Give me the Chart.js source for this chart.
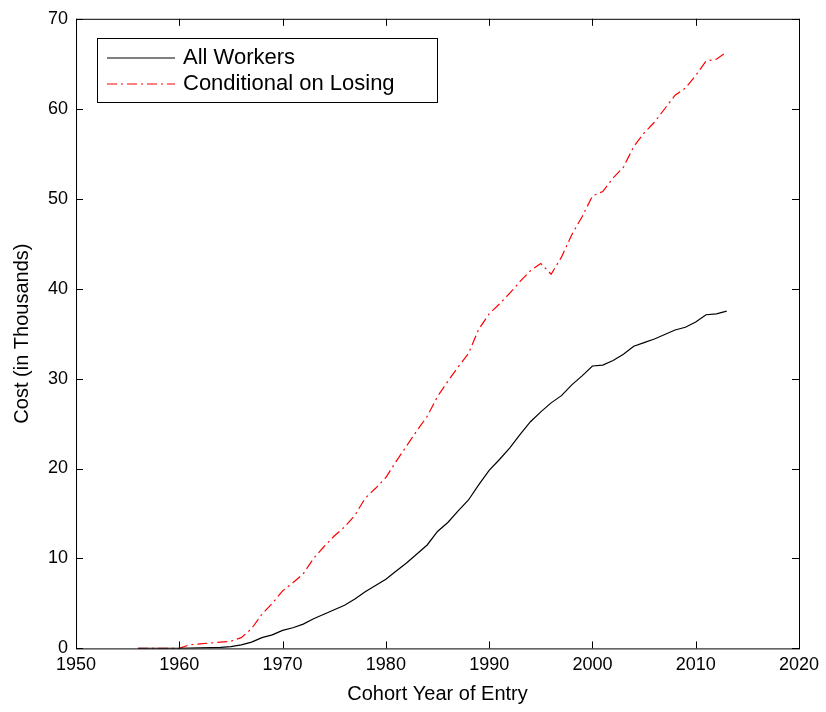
<!DOCTYPE html>
<html>
<head>
<meta charset="UTF-8">
<script src="https://cdn.jsdelivr.net/npm/chart.js@4/dist/chart.umd.min.js"></script>
<style>
  * { margin: 0; padding: 0; }
  body { background: #fff; width: 826px; height: 712px; overflow: hidden; }
</style>
</head>
<body>
<canvas id="c" width="826" height="712"></canvas>
<script>
const YEARS = [1956,1957,1958,1959,1960,1961,1962,1963,1964,1965,1966,1967,1968,1969,1970,1971,1972,1973,1974,1975,1976,1977,1978,1979,1980,1981,1982,1983,1984,1985,1986,1987,1988,1989,1990,1991,1992,1993,1994,1995,1996,1997,1998,1999,2000,2001,2002,2003,2004,2005,2006,2007,2008,2009,2010,2011,2012,2013];
const ALL_WORKERS = [0,0,0,0,0,0.02,0.05,0.08,0.12,0.2,0.4,0.7,1.2,1.5,2.0,2.3,2.7,3.3,3.8,4.3,4.8,5.5,6.3,7.0,7.7,8.6,9.5,10.5,11.5,13.0,14.0,15.3,16.5,18.2,19.8,21.0,22.3,23.8,25.2,26.3,27.3,28.1,29.3,30.3,31.4,31.5,32.0,32.7,33.6,34.0,34.4,34.9,35.4,35.7,36.3,37.1,37.2,37.5];
const CONDITIONAL = [0,0,0,0,0,0.4,0.5,0.6,0.7,0.8,1.2,2.2,3.8,5.0,6.4,7.3,8.3,10.0,11.3,12.5,13.5,14.8,16.7,17.8,19.0,20.8,22.5,24.2,25.8,28.0,29.7,31.3,32.8,35.5,37.2,38.3,39.5,40.8,42.0,42.8,41.6,43.5,46.0,48.0,50.3,50.8,52.3,53.5,55.8,57.3,58.5,60.0,61.5,62.3,63.7,65.3,65.5,66.3];
const SERIES_LABELS = ['All Workers', 'Conditional on Losing'];
const X_TICKS = [1950,1960,1970,1980,1990,2000,2010,2020];
const Y_TICKS = [0,10,20,30,40,50,60,70];

const FONT = 'Liberation Sans, Arial, sans-serif';

const frame = {
  id: 'frame',
  afterDraw(chart) {
    const { ctx, chartArea: a, scales } = chart;
    ctx.save();
    ctx.strokeStyle = '#000';
    ctx.lineWidth = 1;
    ctx.strokeRect(a.left + 0.5, a.top + 0.5, a.right - a.left, a.bottom - a.top);
    ctx.beginPath();
    for (const t of X_TICKS) {
      const x = Math.round(scales.x.getPixelForValue(t)) + 0.5;
      ctx.moveTo(x, a.bottom); ctx.lineTo(x, a.bottom - 7);
      ctx.moveTo(x, a.top); ctx.lineTo(x, a.top + 7);
    }
    for (const t of Y_TICKS) {
      const y = Math.round(scales.y.getPixelForValue(t)) + 0.5;
      ctx.moveTo(a.left, y); ctx.lineTo(a.left + 7, y);
      ctx.moveTo(a.right, y); ctx.lineTo(a.right - 7, y);
    }
    ctx.stroke();
    // legend box
    const bx = 97, by = 38, bw = 340, bh = 64;
    ctx.fillStyle = '#fff';
    ctx.fillRect(bx, by, bw, bh);
    ctx.strokeRect(bx + 0.5, by + 0.5, bw, bh);
    ctx.font = '22px ' + FONT;
    ctx.textBaseline = 'middle';
    ctx.fillStyle = '#000';
    const rows = [[by + 20, '#000', []], [by + 46, '#ff0000', [10, 4, 2, 4]]];
    rows.forEach(([y, col, dash], i) => {
      ctx.strokeStyle = col; ctx.setLineDash(dash);
      ctx.beginPath(); ctx.moveTo(bx + 10, y); ctx.lineTo(bx + 78, y); ctx.stroke();
      ctx.setLineDash([]);
      ctx.fillText(SERIES_LABELS[i], bx + 86, y);
    });
    ctx.restore();
  }
};

new Chart(document.getElementById('c'), {
  type: 'line',
  data: {
    datasets: [
      { label: SERIES_LABELS[0], data: YEARS.map((x, i) => ({ x, y: ALL_WORKERS[i] })), borderColor: '#000', borderWidth: 1.2, pointRadius: 0, tension: 0 },
      { label: SERIES_LABELS[1], data: YEARS.map((x, i) => ({ x, y: CONDITIONAL[i] })), borderColor: '#ff0000', borderWidth: 1.2, borderDash: [10, 4, 2, 4], pointRadius: 0, tension: 0 }
    ]
  },
  options: {
    responsive: false,
    animation: false,
    devicePixelRatio: 1,
    layout: { padding: { top: 17, right: 27, left: 10, bottom: 6 } },
    plugins: { legend: { display: false }, tooltip: { enabled: false } },
    scales: {
      x: {
        type: 'linear', min: 1950, max: 2020,
        afterBuildTicks: s => { s.ticks = X_TICKS.map(v => ({ value: v })); },
        grid: { display: false, drawTicks: false },
        border: { display: false },
        ticks: { color: '#000', font: { family: FONT, size: 18 }, padding: 6, maxRotation: 0, callback: v => String(v) },
        title: { display: true, text: 'Cohort Year of Entry', color: '#000', font: { family: FONT, size: 20 }, padding: { top: 0, bottom: 0 } }
      },
      y: {
        min: 0, max: 70,
        afterBuildTicks: s => { s.ticks = Y_TICKS.map(v => ({ value: v })); },
        grid: { display: false, drawTicks: false },
        border: { display: false },
        ticks: { color: '#000', font: { family: FONT, size: 18 }, padding: 8 },
        title: { display: true, text: 'Cost (in Thousands)', color: '#000', font: { family: FONT, size: 20 }, padding: { top: 0, bottom: 6 } }
      }
    }
  },
  plugins: [frame]
});
</script>
</body>
</html>
